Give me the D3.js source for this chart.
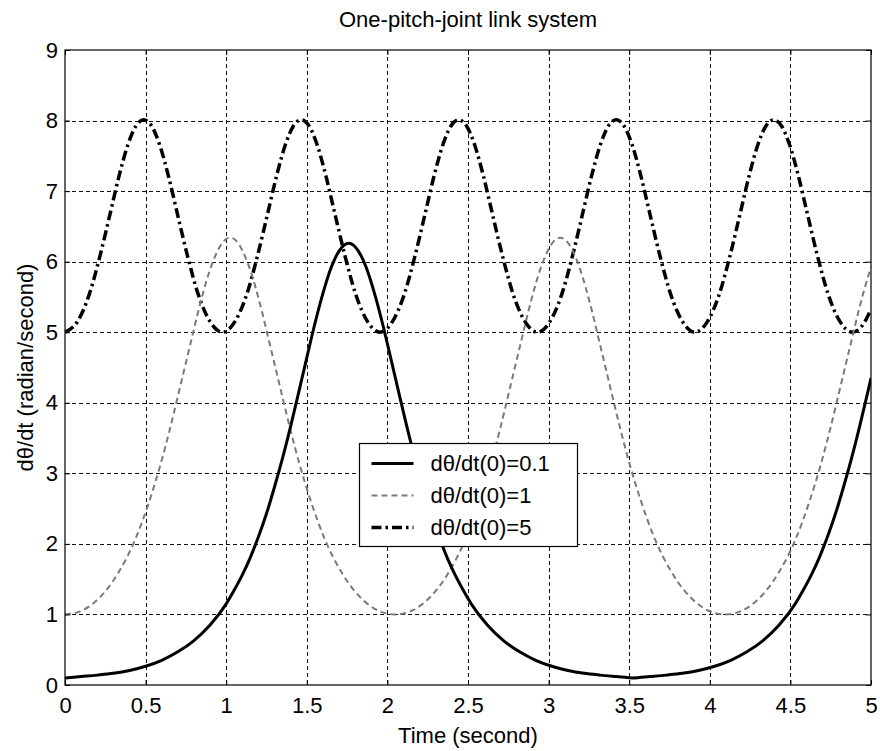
<!DOCTYPE html>
<html>
<head>
<meta charset="utf-8">
<script src="https://cdn.jsdelivr.net/npm/d3@7"></script>
<style>
  html, body { margin: 0; padding: 0; background: #fff; }
  svg { display: block; font-family: "Liberation Sans", Arial, Helvetica, sans-serif; }
</style>
</head>
<body>
<svg id="chart" width="880" height="751"></svg>
<script>
// ---------------- data ----------------
const title = "One-pitch-joint link system";
const xLabel = "Time (second)";
const yLabel = "dθ/dt (radian/second)";
const xTicks = [0, 0.5, 1, 1.5, 2, 2.5, 3, 3.5, 4, 4.5, 5];
const yTicks = [0, 1, 2, 3, 4, 5, 6, 7, 8, 9];
const seriesNames = ["dθ/dt(0)=0.1", "dθ/dt(0)=1", "dθ/dt(0)=5"];

// dθ/dt(0)=0.1  (solid)
const timeA = [0,0.1,0.2,0.3,0.4,0.5,0.6,0.7,0.8,0.9,1.0,1.05,1.1,1.15,1.2,1.25,1.3,1.35,1.4,1.45,1.5,1.55,1.6,1.65,1.7,1.76,
  1.82,1.87,1.92,1.97,2.02,2.07,2.12,2.17,2.22,2.27,2.32,2.37,2.42,2.47,2.52,2.62,2.72,2.82,2.92,3.02,3.12,3.22,3.32,3.42,3.525,
  3.63,3.73,3.83,3.93,4.03,4.13,4.23,4.33,4.43,4.53,4.58,4.63,4.68,4.73,4.78,4.83,4.88,4.93,4.98,5.0];
const valA = [0.10,0.12,0.14,0.165,0.205,0.265,0.35,0.47,0.63,0.85,1.15,1.345,1.56,1.81,2.10,2.43,2.81,3.22,3.67,4.15,4.64,5.12,5.55,5.91,6.15,6.26,
  6.15,5.91,5.55,5.12,4.64,4.15,3.67,3.22,2.81,2.43,2.10,1.81,1.56,1.345,1.15,0.85,0.63,0.47,0.35,0.265,0.205,0.165,0.14,0.12,0.10,
  0.12,0.14,0.165,0.205,0.265,0.35,0.47,0.63,0.85,1.15,1.345,1.56,1.81,2.10,2.43,2.81,3.22,3.67,4.15,4.35];

// dθ/dt(0)=1  (dashed grey)
const timeB = [0,0.09,0.182,0.328,0.437,0.522,0.592,0.650,0.701,0.747,0.789,0.827,0.863,0.897,0.930,0.962,0.993,1.024,
  1.055,1.086,1.118,1.151,1.185,1.221,1.259,1.301,1.347,1.398,1.456,1.526,1.611,1.720,1.866,1.958,2.048,
  2.138,2.230,2.376,2.485,2.570,2.640,2.698,2.749,2.795,2.837,2.875,2.911,2.945,2.978,3.010,3.041,3.072,
  3.103,3.134,3.166,3.199,3.233,3.269,3.307,3.349,3.395,3.446,3.504,3.574,3.659,3.768,3.914,4.006,4.096,
  4.186,4.278,4.424,4.533,4.618,4.688,4.746,4.797,4.843,4.885,4.923,4.959,4.993,5.0];
const valB = [1.00,1.04,1.17,1.58,2.07,2.60,3.12,3.62,4.10,4.54,4.94,5.30,5.61,5.87,6.07,6.22,6.31,6.34,
  6.31,6.22,6.07,5.87,5.61,5.30,4.94,4.54,4.10,3.62,3.12,2.60,2.07,1.58,1.17,1.04,1.00,
  1.04,1.17,1.58,2.07,2.60,3.12,3.62,4.10,4.54,4.94,5.30,5.61,5.87,6.07,6.22,6.31,6.34,
  6.31,6.22,6.07,5.87,5.61,5.30,4.94,4.54,4.10,3.62,3.12,2.60,2.07,1.58,1.17,1.04,1.00,
  1.04,1.17,1.58,2.07,2.60,3.12,3.62,4.10,4.54,4.94,5.30,5.61,5.87,5.92];

// dθ/dt(0)=5  (dash-dot)
const timeC = [0,0.077,0.151,0.218,0.280,0.336,0.389,0.439,0.489,0.538,0.588,0.641,0.697,0.759,0.826,0.900,
  0.977,1.054,1.128,1.195,1.257,1.313,1.366,1.416,1.466,1.515,1.565,1.618,1.674,1.736,1.803,1.877,
  1.954,2.031,2.105,2.172,2.234,2.290,2.343,2.393,2.443,2.492,2.542,2.595,2.651,2.713,2.780,2.854,
  2.931,3.008,3.082,3.149,3.211,3.267,3.320,3.370,3.420,3.469,3.519,3.572,3.628,3.690,3.757,3.831,
  3.908,3.985,4.059,4.126,4.188,4.244,4.297,4.347,4.397,4.446,4.496,4.549,4.605,4.667,4.734,4.808,
  4.885,4.962,5.0];
const valC = [5.00,5.15,5.54,6.09,6.68,7.22,7.65,7.92,8.01,7.92,7.65,7.22,6.68,6.09,5.54,5.15,
  5.00,5.15,5.54,6.09,6.68,7.22,7.65,7.92,8.01,7.92,7.65,7.22,6.68,6.09,5.54,5.15,
  5.00,5.15,5.54,6.09,6.68,7.22,7.65,7.92,8.01,7.92,7.65,7.22,6.68,6.09,5.54,5.15,
  5.00,5.15,5.54,6.09,6.68,7.22,7.65,7.92,8.01,7.92,7.65,7.22,6.68,6.09,5.54,5.15,
  5.00,5.15,5.54,6.09,6.68,7.22,7.65,7.92,8.01,7.92,7.65,7.22,6.68,6.09,5.54,5.15,
  5.00,5.15,5.33];

// ---------------- layout ----------------
const svg = d3.select("#chart");
const W = 880, H = 751;
const m = { left: 65, right: 9, top: 50, bottom: 66 };
const x = d3.scaleLinear().domain([0, 5]).range([m.left, W - m.right]);
const y = d3.scaleLinear().domain([0, 9]).range([H - m.bottom, m.top]);
const FS = 22;

svg.append("rect").attr("width", W).attr("height", H).attr("fill", "#fff");

// grid
const grid = svg.append("g").attr("stroke", "#111").attr("stroke-width", 1)
  .attr("stroke-dasharray", "4,3").attr("fill", "none");
xTicks.filter(t => t > 0 && t < 5).forEach(t => {
  grid.append("line").attr("x1", Math.round(x(t)) + 0.5).attr("x2", Math.round(x(t)) + 0.5)
    .attr("y1", y(9)).attr("y2", y(0));
});
yTicks.filter(t => t > 0 && t < 9).forEach(t => {
  grid.append("line").attr("y1", Math.round(y(t)) + 0.5).attr("y2", Math.round(y(t)) + 0.5)
    .attr("x1", x(0)).attr("x2", x(5));
});

// curves
svg.append("clipPath").attr("id", "clip").append("rect")
  .attr("x", x(0)).attr("y", y(9)).attr("width", x(5) - x(0)).attr("height", y(0) - y(9));

const line = d3.line().x(d => x(d[0])).y(d => y(d[1])).curve(d3.curveMonotoneX);
const zip = (t, v) => t.map((ti, i) => [ti, v[i]]);

const styles = [
  { stroke: "#000", width: 3, dash: null },
  { stroke: "#7a7a7a", width: 2, dash: "6,4" },
  { stroke: "#000", width: 3.5, dash: "10,4,2.5,4" }
];
const seriesData = [zip(timeA, valA), zip(timeB, valB), zip(timeC, valC)];
const plot = svg.append("g").attr("clip-path", "url(#clip)");
[2, 1, 0].forEach(i => {
  plot.append("path").datum(seriesData[i])
    .attr("d", line).attr("fill", "none")
    .attr("stroke", styles[i].stroke).attr("stroke-width", styles[i].width)
    .attr("stroke-dasharray", styles[i].dash)
    .attr("stroke-linejoin", "round");
});

// axes
const fmt = d => String(d);
const gx = svg.append("g").attr("transform", `translate(0,${y(0)})`)
  .call(d3.axisBottom(x).tickValues(xTicks).tickFormat(fmt).tickSizeInner(-5).tickSizeOuter(0).tickPadding(12));
const gy = svg.append("g").attr("transform", `translate(${x(0)},0)`)
  .call(d3.axisLeft(y).tickValues(yTicks).tickFormat(fmt).tickSizeInner(-5).tickSizeOuter(0).tickPadding(7));
const gxt = svg.append("g").attr("transform", `translate(0,${y(9)})`)
  .call(d3.axisTop(x).tickValues(xTicks).tickFormat("").tickSizeInner(-5).tickSizeOuter(0));
const gyr = svg.append("g").attr("transform", `translate(${x(5)},0)`)
  .call(d3.axisRight(y).tickValues(yTicks).tickFormat("").tickSizeInner(-5).tickSizeOuter(0));
[gx, gy, gxt, gyr].forEach(g => {
  g.selectAll(".domain").remove();
  g.selectAll(".tick line").attr("stroke", "#000");
  g.selectAll("text").attr("font-size", FS).attr("fill", "#000")
    .attr("font-family", "'Liberation Sans', Arial, sans-serif");
});

svg.append("rect").attr("x", x(0)).attr("y", y(9)).attr("width", x(5) - x(0)).attr("height", y(0) - y(9))
  .attr("fill", "none").attr("stroke", "#000").attr("stroke-width", 1.2);

// labels
svg.append("text").attr("x", (x(0) + x(5)) / 2).attr("y", 27).attr("text-anchor", "middle")
  .attr("font-size", FS).text(title);
svg.append("text").attr("x", (x(0) + x(5)) / 2).attr("y", 743).attr("text-anchor", "middle")
  .attr("font-size", FS).text(xLabel);
svg.append("text").attr("transform", `translate(33,${(y(0) + y(9)) / 2}) rotate(-90)`)
  .attr("text-anchor", "middle").attr("font-size", FS).text(yLabel);

// legend
const lg = svg.append("g").attr("transform", "translate(359.5,443.5)");
lg.append("rect").attr("width", 218).attr("height", 103).attr("fill", "#fff")
  .attr("stroke", "#000").attr("stroke-width", 1.2);
seriesNames.forEach((name, i) => {
  const ry = 20 + i * 32;
  lg.append("line").attr("x1", 12).attr("x2", 54).attr("y1", ry).attr("y2", ry)
    .attr("stroke", styles[i].stroke).attr("stroke-width", styles[i].width)
    .attr("stroke-dasharray", styles[i].dash);
  lg.append("text").attr("x", 71).attr("y", ry).attr("dy", "0.35em")
    .attr("font-size", FS).text(name);
});
</script>
</body>
</html>
